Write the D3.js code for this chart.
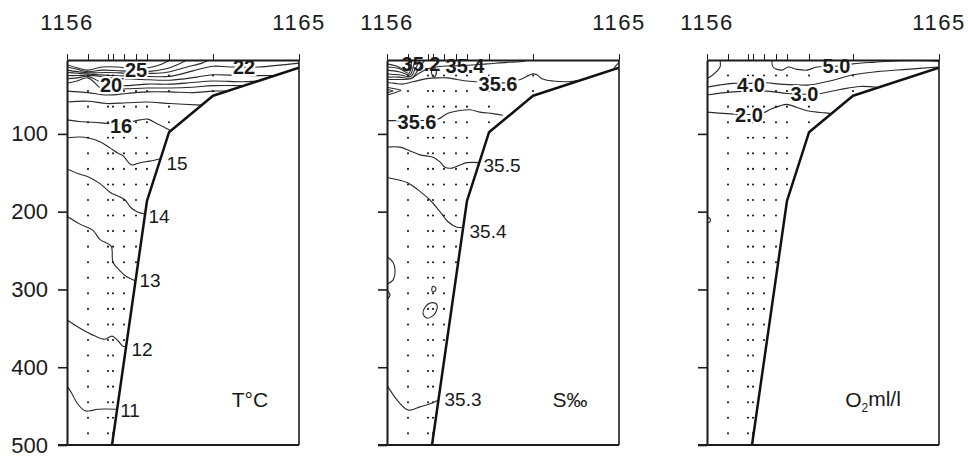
<!DOCTYPE html>
<html>
<head>
<meta charset="utf-8">
<script src="https://cdn.jsdelivr.net/npm/d3@7"></script>
<style>
  body { margin: 0; background: #fff; }
  svg { display: block; }
  text { font-family: "Liberation Sans", Arial, Helvetica, sans-serif; fill: #1a1a1a; }
</style>
</head>
<body>
<svg id="chart" width="968" height="457"></svg>
<script>
// Stations along the section (distance units along the track) and depth axis
const stations = ["1156", "1157", "1158", "1159", "1160", "1161", "1162", "1163", "1164", "1165"];
const stationDist = [0, 21, 41, 46, 57, 69, 80, 102, 146, 232];
const depthTicks = [100, 200, 300, 400, 500];
const sampleLevels = [25, 45, 65, 85, 105, 125, 145, 165, 185, 205, 225, 245, 265, 285, 305, 325, 345, 365, 385, 405, 425, 445, 465, 485];
const deepestSample = [null, 485, 485, 485, 365, 285, 165, 85, 45, null];
// Sea floor along the section: [distance, depth m]
const bottomProfile = [[45, 500], [80, 186], [102, 98], [146, 51], [232, 15]];

// Temperature isotherms, °C: [distance, depth m]
const tempContours = [
  { value: 25, pts: [[0, 11], [10, 15], [21, 18], [35, 14], [50, 14], [69, 17], [85, 14], [95, 10], [103, 5]] },
  { value: 24, pts: [[0, 14], [10, 17], [21, 20], [35, 18], [55, 19], [80, 20], [100, 16], [112, 10], [120, 5]] },
  { value: 23, pts: [[0, 18], [10, 20], [21, 21.5], [40, 21], [65, 22], [90, 22], [103, 20], [120, 14], [135, 9], [142, 5]] },
  { value: 22, pts: [[0, 21], [10, 22], [21, 23], [45, 25], [75, 26], [103, 26], [126, 19], [146, 13], [163, 14], [191, 14], [232, 9]] },
  { value: 21, pts: [[0, 25], [10, 25], [21, 24.5], [45, 28], [75, 30], [103, 31], [130, 27], [146, 24], [175, 25], [209, 25]] },
  { value: 20, pts: [[0, 29], [10, 28], [21, 26], [33, 33], [44, 37], [60, 38], [80, 36], [103, 36], [125, 34], [146, 32], [175, 33], [190, 32]] },
  { value: 19, pts: [[0, 35], [10, 32], [21, 28], [36, 43], [60, 42], [80, 41], [103, 41], [125, 40], [146, 38], [176, 38]] },
  { value: 18, pts: [[0, 45], [21, 47], [40, 50], [60, 48], [80, 46], [103, 46], [125, 47], [146, 45], [160, 45]] },
  { value: 17, pts: [[0, 59], [21, 58], [40, 61], [60, 60], [80, 59], [103, 61], [134, 63]] },
  { value: 16, pts: [[0, 82], [12, 84], [26, 85], [54, 87], [73, 82], [81, 81], [90, 87], [98, 92], [104, 96]] },
  { value: 15, pts: [[0, 105], [13, 104], [21, 105], [33, 110], [43, 118], [51, 125], [56, 128], [61, 136], [65, 140], [73, 137], [83, 135], [93.5, 132]] },
  { value: 14, pts: [[0, 145], [13, 152], [21, 155], [33, 164], [43, 175], [51, 180], [58, 185], [64, 195], [70, 200], [78, 203]] },
  { value: 13, pts: [[0, 206], [13, 216], [26, 224], [33, 236], [44, 244], [46, 265], [53, 276], [59, 283], [68.5, 289]] },
  { value: 12, pts: [[0, 339], [13, 350], [28, 360], [38, 364], [45, 360], [51, 366], [56, 373], [59, 373]] },
  { value: 11, pts: [[0, 424], [5, 434], [10, 446], [18, 456], [23, 456], [31, 454], [50, 454]] }
];
const tempLabels = [
  { text: "25", d: 69, z: 18, kind: "inline" },
  { text: "22", d: 177, z: 14, kind: "inline" },
  { text: "20", d: 44, z: 37, kind: "inline" },
  { text: "16", d: 54, z: 89, kind: "inline" },
  { text: "15", d: 110, z: 138, kind: "end" },
  { text: "14", d: 92, z: 206, kind: "end" },
  { text: "13", d: 83, z: 288, kind: "end" },
  { text: "12", d: 75, z: 377, kind: "end" },
  { text: "11", d: 63, z: 455, kind: "end" }
];

// Salinity isohalines, ‰
const salContours = [
  { value: 34.4, pts: [[0, 10], [10, 13], [20, 19], [22, 10], [22, 5]] },
  { value: 34.6, pts: [[0, 14], [12, 16], [22, 22], [24, 12], [25, 5]] },
  { value: 34.8, pts: [[0, 18], [12, 20], [23, 24], [26, 15], [28, 5]] },
  { value: 35.0, pts: [[0, 23], [12, 24], [24, 26], [28, 17], [31, 10], [33, 5]] },
  { value: 35.2, pts: [[0, 27], [12, 27], [25, 28], [30, 20], [34, 12], [38, 5]] },
  { value: 35.4, pts: [[0, 30], [12, 30], [24, 29], [32, 22], [42, 16], [55, 13], [78, 12], [100, 10], [120, 8], [135, 7], [141, 5]] },
  { value: 35.6, pts: [[0, 34], [8, 35], [15, 36], [26, 33], [40, 29], [51, 28], [60, 28], [70, 30], [80, 32], [90, 33], [111, 35], [131, 31], [140, 26], [145, 23], [150, 24], [155, 29], [166, 32], [180, 33], [193, 31]] },
  { value: 35.7, pts: [[0, 40], [8, 42], [14, 44], [8, 47], [0, 50]] },
  { value: 35.8, pts: [[0, 43], [6, 45], [0, 47]] },
  { value: 35.7, closed: true, pts: [[45, 17], [47, 15], [49, 18], [49, 24], [47, 27], [45, 24]] },
  { value: 35.6, pts: [[227, 15], [230, 11], [232, 8]] },
  { value: 35.6, pts: [[0, 83], [10, 83], [30, 83], [51, 81], [60, 74], [73, 70], [83, 69], [93, 72], [106, 74], [116, 76]] },
  { value: 35.5, pts: [[0, 117], [13, 117], [23, 122], [33, 127], [46, 130], [53, 136], [58, 143], [65, 144], [73, 140], [80, 137], [92, 137]] },
  { value: 35.4, pts: [[0, 156], [21, 163], [31, 172], [43, 185], [53, 200], [61, 213], [70, 220], [76, 220]] },
  { value: 35.4, pts: [[0, 258], [6, 265], [8, 275], [6, 288], [0, 293]] },
  { value: 35.4, pts: [[0, 301], [3, 307], [0, 313]] },
  { value: 35.4, closed: true, pts: [[46, 296], [48, 297], [49, 300], [47, 303], [45, 302], [45, 298]] },
  { value: 35.4, closed: true, pts: [[38, 323], [45, 317], [50, 320], [48, 331], [40, 337], [36, 331]] },
  { value: 35.3, pts: [[0, 423], [10, 442], [21, 455], [33, 451], [43, 447], [51.5, 442]] }
];
const salLabels = [
  { text: "35.2", d: 34, z: 10, kind: "over" },
  { text: "35.4", d: 78, z: 13, kind: "over" },
  { text: "35.6", d: 111, z: 35, kind: "inline" },
  { text: "35.6", d: 30, z: 84, kind: "inline" },
  { text: "35.5", d: 115, z: 140, kind: "end" },
  { text: "35.4", d: 101, z: 225, kind: "end" },
  { text: "35.3", d: 76, z: 441, kind: "end" }
];

// Dissolved oxygen isolines, ml/l
const oxyContours = [
  { value: 5.0, pts: [[65, 5], [66, 14], [75, 18], [81, 14], [90, 17], [100, 18], [110, 14], [129, 13], [146, 10], [166, 8], [193, 6], [223, 6], [232, 7]] },
  { value: 5.0, pts: [[13, 5], [13, 14], [6, 24], [0, 29]] },
  { value: 4.0, pts: [[0, 40], [13, 37], [26, 35], [44, 35], [56, 34], [73, 36], [90, 37], [103, 37], [126, 31], [146, 24], [170, 20], [200, 17], [231, 14]] },
  { value: 3.0, pts: [[0, 50], [26, 46], [60, 45], [80, 48], [98, 49], [113, 48], [133, 43], [153, 39], [170, 40]] },
  { value: 2.0, pts: [[0, 72], [20, 74], [42, 75], [56, 73], [64, 68], [73, 64], [80, 62], [90, 66], [103, 71], [118, 73], [124, 74]] },
  { value: 2.0, pts: [[0, 207], [3, 209], [3, 213], [0, 215]] }
];
const oxyLabels = [
  { text: "5.0", d: 129.5, z: 13, kind: "inline" },
  { text: "4.0", d: 44, z: 37, kind: "inline" },
  { text: "3.0", d: 97.5, z: 48, kind: "inline" },
  { text: "2.0", d: 42, z: 75, kind: "inline" }
];

const TOP = 60, BOT = 445, W = 232;
const panels = [
  { left: 67, contours: tempContours, labels: tempLabels, title: "T°C", titleD: 183, depthLabels: true },
  { left: 387, contours: salContours, labels: salLabels, title: "S‰", titleD: 183, depthLabels: false },
  { left: 707, contours: oxyContours, labels: oxyLabels, title: "O2ml/l", titleD: 166, depthLabels: false }
];

const svg = d3.select("#chart");
const y = d3.scaleLinear().domain([5, 500]).range([TOP, BOT]);
const ink = "#1a1a1a";

panels.forEach((p, pi) => {
  const x = d3.scaleLinear().domain([0, 232]).range([p.left, p.left + W]);
  const smooth = d3.line().x(d => x(d[0])).y(d => y(d[1])).curve(d3.curveCatmullRom.alpha(0.5));
  const loop = d3.line().x(d => x(d[0])).y(d => y(d[1])).curve(d3.curveCatmullRomClosed.alpha(0.5));
  const straight = d3.line().x(d => x(d[0])).y(d => y(d[1]));

  const clipId = "panel-clip-" + pi;
  svg.append("clipPath").attr("id", clipId)
    .append("rect").attr("x", p.left).attr("y", TOP).attr("width", W).attr("height", BOT - TOP);

  const g = svg.append("g");
  const inner = g.append("g").attr("clip-path", `url(#${clipId})`);

  // isolines
  inner.selectAll("path.iso").data(p.contours).join("path")
    .attr("class", "iso")
    .attr("d", c => (c.closed ? loop : smooth)(c.pts))
    .attr("fill", "none").attr("stroke", "#2a2a2a").attr("stroke-width", 1.1);

  // sampling points
  const samples = [];
  stationDist.forEach((d, i) => {
    if (deepestSample[i] == null) return;
    sampleLevels.filter(z => z <= deepestSample[i]).forEach(z => samples.push([d, z]));
  });
  inner.selectAll("circle.smp").data(samples).join("circle")
    .attr("class", "smp")
    .attr("cx", s => x(s[0])).attr("cy", s => y(s[1])).attr("r", 1.05)
    .attr("fill", ink);

  // sea floor
  inner.append("path").attr("d", straight(bottomProfile))
    .attr("fill", "none").attr("stroke", "#111").attr("stroke-width", 2.5).attr("stroke-linejoin", "round");

  // isoline labels
  g.selectAll("text.lab").data(p.labels).join("text")
    .attr("class", "lab")
    .attr("x", l => x(l.d)).attr("y", l => y(l.z)).attr("dy", "0.36em")
    .attr("text-anchor", "middle")
    .attr("font-size", l => l.kind === "end" ? 19 : 20)
    .attr("font-weight", l => l.kind === "end" ? 400 : 700)
    .attr("stroke", l => l.kind === "inline" ? "#fff" : "none")
    .attr("stroke-width", 4).attr("paint-order", "stroke")
    .text(l => l.text);

  // frame: top axis with station ticks, side lines, depth axis
  g.append("g").attr("transform", `translate(0,${TOP})`)
    .call(d3.axisTop(x).tickValues(stationDist).tickSize(6).tickSizeOuter(0).tickFormat(""))
    .call(a => a.select(".domain").attr("stroke", ink).attr("stroke-width", 2))
    .call(a => a.selectAll(".tick line").attr("stroke", ink).attr("stroke-width", 1));

  const yAxis = d3.axisLeft(y).tickValues(depthTicks).tickSize(9).tickSizeOuter(0).tickPadding(10)
    .tickFormat(p.depthLabels ? d3.format("d") : "");
  g.append("g").attr("transform", `translate(${p.left},0)`)
    .call(yAxis)
    .call(a => a.select(".domain").attr("stroke", ink).attr("stroke-width", 2))
    .call(a => a.selectAll(".tick line").attr("stroke", ink).attr("stroke-width", 1.6))
    .call(a => a.selectAll(".tick text").attr("font-size", 22).attr("fill", ink)
      .attr("font-family", "'Liberation Sans', Arial, sans-serif"));

  g.append("line").attr("x1", p.left - 9).attr("x2", p.left + W).attr("y1", BOT).attr("y2", BOT)
    .attr("stroke", ink).attr("stroke-width", 2);
  g.append("line").attr("x1", p.left + W).attr("x2", p.left + W).attr("y1", TOP).attr("y2", BOT)
    .attr("stroke", ink).attr("stroke-width", 1.6);

  // end station numbers
  g.selectAll("text.stn").data([0, stations.length - 1]).join("text")
    .attr("class", "stn")
    .attr("x", i => x(stationDist[i])).attr("y", 30)
    .attr("text-anchor", "middle").attr("font-size", 22).attr("letter-spacing", 1.5)
    .text(i => stations[i]);

  // panel title
  const t = g.append("text").attr("x", x(p.titleD)).attr("y", y(442)).attr("dy", "0.36em")
    .attr("text-anchor", "middle").attr("font-size", 21);
  if (p.title === "O2ml/l") {
    t.append("tspan").text("O");
    t.append("tspan").attr("font-size", 12).attr("dy", "0.35em").text("2");
    t.append("tspan").attr("dy", "-0.25em").text("ml/l");
  } else {
    t.text(p.title);
  }
});
</script>
</body>
</html>
